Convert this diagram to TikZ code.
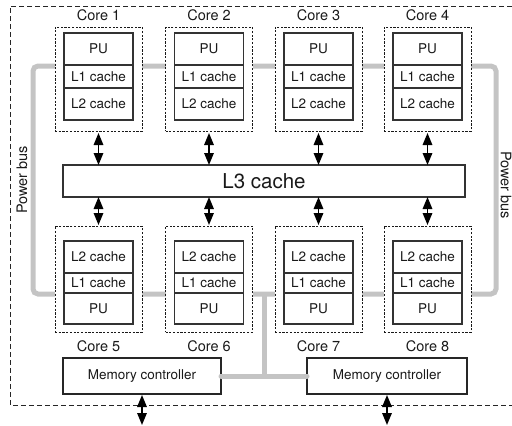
\documentclass[tikz,border=0pt]{standalone}
\usepackage{fontspec}
\setmainfont{TeX Gyre Heros}
\usetikzlibrary{arrows.meta}
\begin{document}
\begin{tikzpicture}[x=1pt,y=-1pt,
  corebox/.style={draw=black!90, dash pattern=on 2.2pt off 1.5pt, line width=1pt,
    fill=white, minimum width=87pt, inner sep=0pt, outer sep=0pt},
  unit/.style={draw=black!80, line width=1.2pt, fill=white, minimum width=69pt,
    inner sep=0pt, outer sep=0pt, text=black!90, font=\fontsize{13.5}{15}\selectfont},
  lbl/.style={font=\fontsize{14.5}{17}\selectfont, inner sep=0pt, text=black!90},
  buslbl/.style={font=\fontsize{14.5}{17}\selectfont, inner sep=0pt, text=black!90},
  bus/.style={draw=black!23, line width=5pt},
  link/.style={line width=1.6pt, {Triangle[width=9.5pt,length=12pt]}-{Triangle[width=9.5pt,length=12pt]}}
]
\useasboundingbox (0,0) rectangle (512,426);

% chip outline (open to the right)
\draw[dash pattern=on 5pt off 3pt, line width=1pt, black!85]
  (520,6) -- (10,6) -- (10,405) -- (520,405);

% power bus ring behind the cores
\draw[bus, rounded corners=5pt] (33,66) rectangle (496,294);
\draw[bus] (264,294) -- (264,376);

% upper row of cores
\foreach \i/\x in {1/98.5,2/209,3/318.5,4/427.5} {
  \node[corebox, minimum height=104pt] (c\i) at (\x,79) {};
  \node[unit, minimum height=32pt] (c\i pu) at (\x,49) {PU};
  \node[unit, minimum height=23pt] (c\i l1) at (\x,76.5) {L1 cache};
  \node[unit, minimum height=32pt] (c\i l2) at (\x,104) {L2 cache};
  \node[lbl] (c\i name) at (\x,15) {Core \i};
}

% lower row of cores
\foreach \i/\x in {5/98.5,6/209,7/318.5,8/427.5} {
  \node[corebox, minimum height=106pt] (c\i) at (\x,279) {};
  \node[unit, minimum height=32pt] (c\i l2) at (\x,257) {L2 cache};
  \node[unit, minimum height=20pt] (c\i l1) at (\x,283) {L1 cache};
  \node[unit, minimum height=31pt] (c\i pu) at (\x,308.5) {PU};
  \node[lbl] (c\i name) at (\x,346) {Core \i};
}

% shared L3 cache
\node[draw=black!80, line width=1.3pt, fill=white, minimum width=402pt, minimum height=32pt,
  inner sep=0pt, outer sep=0pt, text=black!90, font=\fontsize{20.5}{24}\selectfont] (l3) at (264,181) {L3 cache};

% memory controllers
\node[draw=black!85, line width=1.2pt, fill=white, minimum width=158pt, minimum height=36pt,
  inner sep=0pt, outer sep=0pt, text=black!90, font=\fontsize{13.5}{15}\selectfont] (mc1) at (142,376) {Memory controller};
\node[draw=black!85, line width=1.2pt, fill=white, minimum width=160pt, minimum height=36pt,
  inner sep=0pt, outer sep=0pt, text=black!90, font=\fontsize{13.5}{15}\selectfont] (mc2) at (387,376) {Memory controller};
\draw[bus, line cap=round] (mc1.east) -- (mc2.west);

% bus labels
\node[buslbl, rotate=90] (pbl) at (22,180) {Power bus};
\node[buslbl, rotate=-90] (pbr) at (506,185) {Power bus};

% core <-> L3 links
\foreach \i in {1,...,4}
  \draw[link, shorten <=2pt] (c\i.south) -- (c\i.south |- l3.north);
\foreach \i in {5,...,8}
  \draw[link, shorten >=1pt] (c\i.north |- l3.south) -- (c\i.north);

% off-chip memory links
\coordinate (m1out) at (142,425);
\coordinate (m2out) at (387,425);
\draw[link, shorten <=1pt] (mc1.south) -- (m1out);
\draw[link, shorten <=1pt] (mc2.south) -- (m2out);
\end{tikzpicture}
\end{document}
